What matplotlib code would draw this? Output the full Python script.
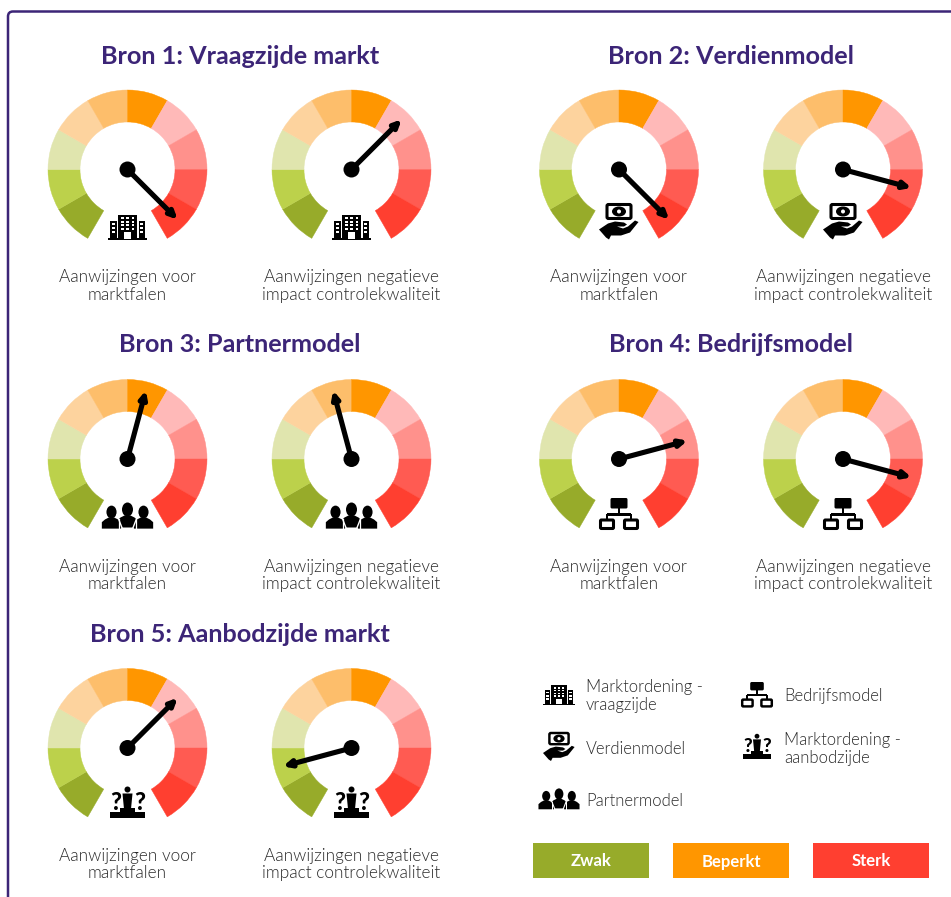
import numpy as np
import matplotlib
matplotlib.use('Agg')
import matplotlib.pyplot as plt
from matplotlib.patches import Wedge, Rectangle, Circle, Polygon, FancyBboxPatch, Ellipse

plt.rcParams['font.family'] = ['Lato', 'DejaVu Sans']

# Data
titles = ['Bron 1: Vraagzijde markt', 'Bron 2: Verdienmodel', 'Bron 3: Partnermodel',
          'Bron 4: Bedrijfsmodel', 'Bron 5: Aanbodzijde markt']
# needle position on the dial, 0 = start of first segment, 10 = end of last segment
marktfalen = [9.5, 9.5, 5.5, 7.5, 6.5]
controlekwaliteit = [6.5, 8.5, 4.5, 8.5, 1.5]
label_markt = 'Aanwijzingen voor\nmarktfalen'
label_impact = 'Aanwijzingen negatieve\nimpact controlekwaliteit'
segment_colors = ['#97ab2a', '#bcd14b', '#e0e5ae', '#fdd39e', '#fdbe6b',
                  '#ff9600', '#ffb9b8', '#ff918c', '#ff5b52', '#ff3f30']
legend_names = ['Marktordening -\nvraagzijde', 'Verdienmodel', 'Partnermodel',
                'Bedrijfsmodel', 'Marktordening -\naanbodzijde']
legend_levels = ['Zwak', 'Beperkt', 'Sterk']
legend_colors = ['#97ab2a', '#ff9600', '#ff3f30']

PURPLE = '#3c2577'
TEXT = '#2b2b2b'

fig = plt.figure(figsize=(9.51, 8.97), dpi=100)
ax = fig.add_axes([0, 0, 1, 1])
ax.set_xlim(0, 951)
ax.set_ylim(897, 0)
ax.axis('off')


def rect(x, y, w, h, color='black', **kw):
    ax.add_patch(Rectangle((x, y), w, h, fc=color, ec='none', **kw))


def poly(cx, cy, s, pts, color='black'):
    ax.add_patch(Polygon([(cx + x * s, cy + y * s) for x, y in pts], fc=color, ec='none'))


def icon_building(cx, cy, s=1.0):
    def r(x, y, w, h, color='black'):
        rect(cx + x * s, cy + y * s, w * s, h * s, color)
    r(-19.5, 11, 39, 1.8)
    r(-9.5, -12.5, 19, 24)
    r(-17.5, -6.5, 6.5, 18)
    r(11, -6.5, 6.5, 18)
    for yy in (-10, -6.5, -3, 0.5):
        for xx in (-6.5, -1.2, 4):
            r(xx, yy, 2.5, 2, 'white')
    r(-3.2, 5, 6.4, 6.5, 'white')
    for xx in (-15.8, 12.8):
        for yy in (-4, 0, 4):
            r(xx, yy, 3, 2, 'white')


def icon_money(cx, cy, s=1.0):
    ax.add_patch(FancyBboxPatch((cx - 12 * s, cy - 15 * s), 24 * s, 14 * s,
                                boxstyle='round,pad=0,rounding_size=1.5', fc='white', ec='black', lw=2.2 * s))
    ax.add_patch(Ellipse((cx, cy - 8 * s), 14 * s, 10 * s, fc='black', ec='none'))
    ax.add_patch(Circle((cx, cy - 8 * s), 2 * s, fc='white', ec='none'))
    hand = [(-20, 10), (-11, 4), (-4, 2), (5, 3), (8, 5), (5, 7), (-2, 7), (4, 9), (9, 7), (16, 1), (19.5, 2.5),
            (11, 13), (2, 16), (-8, 16), (-10, 20), (-13, 18)]
    poly(cx, cy, s, hand)


def icon_person(cx, cy, s):
    ax.add_patch(Ellipse((cx, cy - 7 * s), 11 * s, 14 * s, fc='black', ec='none'))
    body = [(-10.5, 11), (-10.5, 4), (-7, 1), (-3, -1), (3, -1), (7, 1), (10.5, 4), (10.5, 11)]
    poly(cx, cy, s, body)


def icon_partner(cx, cy, s=1.0):
    icon_person(cx - 16 * s, cy + 1.5 * s, s * 0.92)
    icon_person(cx + 16 * s, cy + 1.5 * s, s * 0.92)
    ax.plot([cx - 10.5 * s, cx - 5 * s], [cy - 2 * s, cy + 12 * s], color='white', lw=1.0 * s)
    ax.plot([cx + 10.5 * s, cx + 5 * s], [cy - 2 * s, cy + 12 * s], color='white', lw=1.0 * s)
    icon_person(cx, cy - 0.5 * s, s * 1.0)
    ax.plot([cx - 8.5 * s, cx - 8.5 * s], [cy + 2 * s, cy + 12 * s], color='white', lw=0.9 * s)
    ax.plot([cx + 8.5 * s, cx + 8.5 * s], [cy + 2 * s, cy + 12 * s], color='white', lw=0.9 * s)


def icon_network(cx, cy, s=1.0):
    ax.add_patch(FancyBboxPatch((cx - 8.5 * s, cy - 15 * s), 17 * s, 10.5 * s,
                                boxstyle='round,pad=0,rounding_size=1.5', fc='black', ec='none'))
    rect(cx - 1.3 * s, cy - 5 * s, 2.6 * s, 8 * s)
    rect(cx - 12 * s, cy + 0.5 * s, 24 * s, 2.4 * s)
    for xx in (-12, 12):
        rect(cx + (xx - 1.2) * s, cy + 1 * s, 2.4 * s, 6 * s)
        ax.add_patch(FancyBboxPatch((cx + (xx - 6.5) * s, cy + 7 * s), 13 * s, 8.5 * s,
                                    boxstyle='round,pad=0,rounding_size=1', fc='white', ec='black', lw=2.2 * s))


def icon_aanbod(cx, cy, s=1.0):
    ax.add_patch(Circle((cx, cy - 13.5 * s), 3 * s, fc='black', ec='none'))
    poly(cx, cy, s, [(-5, -9.5), (5, -9.5), (3.5, 6), (-3.5, 6)])
    rect(cx - 7.5 * s, cy + 5 * s, 15 * s, 5 * s)
    rect(cx - 17.5 * s, cy + 9 * s, 35 * s, 6 * s)
    ax.text(cx - 12 * s, cy - 1 * s, '?', fontsize=17 * s, fontweight='black', ha='center', va='center', color='black')
    ax.text(cx + 12 * s, cy - 1 * s, '?', fontsize=17 * s, fontweight='black', ha='center', va='center', color='black')


icons = [icon_building, icon_money, icon_partner, icon_network, icon_aanbod]
icon_dy = [58, 50, 58, 54, 55]


def gauge(cx, cy, score, draw_icon, dy, label):
    for i, c in enumerate(segment_colors):
        a1 = 240 - 30 * i
        a2 = a1 - 30
        # y axis points down, so angles are mirrored
        ax.add_patch(Wedge((cx, cy), 79.5, -a1, -a2, width=32, fc=c, ec=c, lw=0.3))
    ang = np.deg2rad(240 - 30 * score)
    tip = (cx + 71 * np.cos(ang), cy - 71 * np.sin(ang))
    ax.annotate('', xy=tip, xytext=(cx, cy),
                arrowprops=dict(arrowstyle='-|>,head_length=0.42,head_width=0.2', lw=3.7, color='black',
                                shrinkA=0, shrinkB=0))
    ax.add_patch(Circle((cx, cy), 8, fc='black', ec='none', zorder=5))
    draw_icon(cx, cy + dy)
    ax.text(cx, cy + 116.5, label, ha='center', va='center', fontsize=12.4, fontweight=300,
            color=TEXT, linespacing=1.13)


# frame
ax.add_patch(FancyBboxPatch((8, 11.5), 1100, 1100, boxstyle='round,pad=0,rounding_size=5',
                            fc='white', ec=PURPLE, lw=1.8, clip_on=True, zorder=0))

col_x = [(127.5, 351.5), (619, 843), (127.5, 351.5), (619, 843), (127.5, 351.5)]
row_y = [169.5, 169.5, 459, 459, 748]
title_pos = [(240, 56), (731, 56), (240, 345), (731, 345), (240, 635)]

for i in range(5):
    ax.text(title_pos[i][0], title_pos[i][1], titles[i], ha='center', va='center',
            fontsize=18.2, fontweight='bold', color=PURPLE)
    gauge(col_x[i][0], row_y[i], marktfalen[i], icons[i], icon_dy[i], label_markt)
    gauge(col_x[i][1], row_y[i], controlekwaliteit[i], icons[i], icon_dy[i], label_impact)

# legend with icons
legend_icons = [icon_building, icon_money, icon_partner, icon_network, icon_aanbod]
legend_icon_pos = [(559, 695), (559, 745), (559, 800), (757, 694), (757, 747)]
legend_text_pos = [(586, 696), (586, 749), (586, 801), (784, 696), (784, 749)]
for i in range(5):
    legend_icons[i](legend_icon_pos[i][0], legend_icon_pos[i][1], 0.8)
    ax.text(legend_text_pos[i][0], legend_text_pos[i][1], legend_names[i], ha='left', va='center',
            fontsize=12, fontweight=300, color=TEXT, linespacing=1.15)

box_x = [533, 673, 813]
for i in range(3):
    rect(box_x[i], 843, 116, 35, legend_colors[i])
    ax.text(box_x[i] + 58, 861.5, legend_levels[i], ha='center', va='center', fontsize=12,
            fontweight='bold', color='white')

fig.savefig('out.png', dpi=100)
